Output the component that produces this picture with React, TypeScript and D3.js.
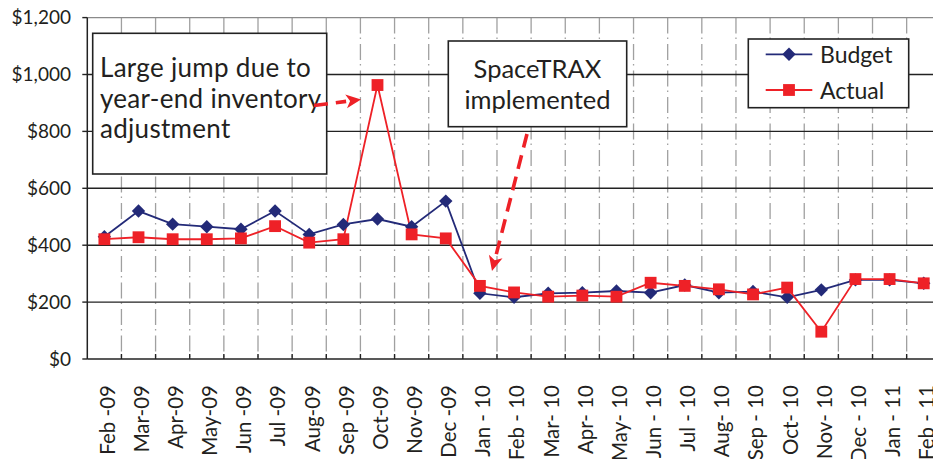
import React, { useEffect, useRef } from 'react';
import { select, scaleBand, scaleLinear, line, range, symbol, symbolSquare } from 'd3';

const months = [
  'Feb -09', 'Mar-09', 'Apr-09', 'May-09', 'Jun -09', 'Jul -09', 'Aug-09', 'Sep -09',
  'Oct-09', 'Nov-09', 'Dec -09', 'Jan - 10', 'Feb - 10', 'Mar- 10', 'Apr- 10', 'May- 10',
  'Jun - 10', 'Jul - 10', 'Aug- 10', 'Sep - 10', 'Oct- 10', 'Nov- 10', 'Dec - 10', 'Jan - 11', 'Feb - 11',
];
const budget = [430, 520, 474, 465, 456, 520, 438, 473, 492, 465, 555, 231, 217, 231, 233, 239, 233, 260, 233, 237, 217, 243, 278, 278, 266];
const actual = [421, 428, 421, 421, 424, 467, 409, 421, 963, 438, 424, 257, 234, 219, 223, 219, 268, 257, 245, 227, 251, 96, 281, 281, 266];
const yTicks = [0, 200, 400, 600, 800, 1000, 1200];
const yTickLabels = ['$0', '$200', '$400', '$600', '$800', '$1,000', '$1,200'];

const FONT = 'Lato, "Open Sans", sans-serif';
const NAVY = '#232a78';
const RED = '#ee2127';

function BudgetChart() {
  const svgRef = useRef<SVGSVGElement>(null);

  useEffect(() => {
    const svg = select(svgRef.current);
    const left = 87.3;
    const right = 940.8;
    const top = 17.6;
    const bottom = 359;

    const x = scaleBand<string>().domain(months).range([left, right]).padding(0);
    const y = scaleLinear().domain([0, 1200]).range([bottom, top]);
    const cx = (i: number) => (x(months[i]) as number) + x.bandwidth() / 2;

    const g = svg.append('g');

    // vertical dash-dot gridlines at category boundaries
    g.selectAll('line.vgrid')
      .data(range(1, months.length))
      .enter()
      .append('line')
      .attr('x1', (i) => x(months[i]) as number)
      .attr('x2', (i) => x(months[i]) as number)
      .attr('y1', top)
      .attr('y2', bottom)
      .attr('stroke', '#a0a0a0')
      .attr('stroke-width', 1.3)
      .attr('stroke-dasharray', '16,4,1.5,5');

    // horizontal gridlines
    g.selectAll('line.hgrid')
      .data(yTicks.slice(1))
      .enter()
      .append('line')
      .attr('x1', left)
      .attr('x2', right)
      .attr('y1', (d) => y(d))
      .attr('y2', (d) => y(d))
      .attr('stroke', (d) => (d === 1200 ? '#8a8a8a' : '#222'))
      .attr('stroke-width', 1.4);

    // axes
    g.append('line').attr('x1', left).attr('x2', left).attr('y1', top).attr('y2', bottom)
      .attr('stroke', '#222').attr('stroke-width', 1.5);
    g.append('line').attr('x1', left).attr('x2', right).attr('y1', bottom).attr('y2', bottom)
      .attr('stroke', '#222').attr('stroke-width', 1.5);

    g.selectAll('line.ytick')
      .data(yTicks)
      .enter()
      .append('line')
      .attr('x1', left - 5)
      .attr('x2', left)
      .attr('y1', (d) => y(d))
      .attr('y2', (d) => y(d))
      .attr('stroke', '#222')
      .attr('stroke-width', 1.4);

    g.selectAll('line.xtick')
      .data(range(1, months.length))
      .enter()
      .append('line')
      .attr('x1', (i) => x(months[i]) as number)
      .attr('x2', (i) => x(months[i]) as number)
      .attr('y1', bottom - 5)
      .attr('y2', bottom)
      .attr('stroke', '#222')
      .attr('stroke-width', 1.4);

    // y labels
    g.selectAll('text.ylab')
      .data(yTicks)
      .enter()
      .append('text')
      .attr('x', 71)
      .attr('y', (d) => y(d))
      .attr('dy', '0.36em')
      .attr('text-anchor', 'end')
      .attr('font-family', FONT)
      .attr('font-size', 19)
      .attr('fill', '#231f20')
      .text((d, i) => yTickLabels[i]);

    // x labels, rotated
    g.selectAll('text.xlab')
      .data(months)
      .enter()
      .append('text')
      .attr('transform', (d, i) => `translate(${cx(i) + 3},385) rotate(-90)`)
      .attr('dy', '0.36em')
      .attr('text-anchor', 'end')
      .attr('font-family', FONT)
      .attr('font-size', 20.5)
      .attr('fill', '#231f20')
      .text((d) => d);

    // series
    const lineGen = line<number>().x((d, i) => cx(i)).y((d) => y(d));

    g.append('path').datum(budget).attr('d', lineGen)
      .attr('fill', 'none').attr('stroke', NAVY).attr('stroke-width', 1.8);
    g.append('path').datum(actual).attr('d', lineGen)
      .attr('fill', 'none').attr('stroke', RED).attr('stroke-width', 1.8);

    // diamond: square rotated 45deg, ~13px across
    const diamond = 'M0,-6.7L6.7,0L0,6.7L-6.7,0Z';
    const square = symbol().type(symbolSquare).size(140)();

    g.selectAll('path.bm')
      .data(budget)
      .enter()
      .append('path')
      .attr('d', diamond)
      .attr('transform', (d, i) => `translate(${cx(i)},${y(d)})`)
      .attr('fill', NAVY);

    g.selectAll('path.am')
      .data(actual)
      .enter()
      .append('path')
      .attr('d', square)
      .attr('transform', (d, i) => `translate(${cx(i)},${y(d)})`)
      .attr('fill', RED);

    // annotation boxes
    const box1 = g.append('g');
    box1.append('rect').attr('x', 92.7).attr('y', 33.3).attr('width', 234).attr('height', 140.7)
      .attr('fill', '#fff').attr('stroke', '#222').attr('stroke-width', 1.6);
    ['Large jump due to', 'year-end inventory', 'adjustment'].forEach((t, i) => {
      box1.append('text').attr('x', 100).attr('y', 77 + i * 30.5)
        .attr('font-family', FONT).attr('font-size', 26).attr('letter-spacing', 0.3)
        .attr('fill', '#231f20').text(t);
    });

    const box2 = g.append('g');
    box2.append('rect').attr('x', 448.3).attr('y', 41).attr('width', 178.4).attr('height', 85.7)
      .attr('fill', '#fff').attr('stroke', '#222').attr('stroke-width', 1.6);
    ['SpaceTRAX', 'implemented'].forEach((t, i) => {
      box2.append('text').attr('x', 537.5).attr('y', 78 + i * 30.5).attr('text-anchor', 'middle')
        .attr('font-family', FONT).attr('font-size', 25.5).attr('fill', '#231f20').text(t);
    });

    // dashed arrows
    const arrow = (x1: number, y1: number, x2: number, y2: number) => {
      const ang = Math.atan2(y2 - y1, x2 - x1);
      const headLen = 15;
      const headW = 7;
      const bx = x2 - headLen * Math.cos(ang);
      const by = y2 - headLen * Math.sin(ang);
      g.append('line').attr('x1', x1).attr('y1', y1).attr('x2', bx).attr('y2', by)
        .attr('stroke', RED).attr('stroke-width', 3.6).attr('stroke-dasharray', '14,8');
      const px = -Math.sin(ang) * headW;
      const py = Math.cos(ang) * headW;
      g.append('path')
        .attr('d', `M${x2},${y2}L${bx + px},${by + py}L${bx + 4 * Math.cos(ang)},${by + 4 * Math.sin(ang)}L${bx - px},${by - py}Z`)
        .attr('fill', RED);
    };
    arrow(314, 105.5, 361, 99.5);
    arrow(527, 134, 492, 271);

    // legend
    const leg = g.append('g');
    leg.append('rect').attr('x', 748.3).attr('y', 39).attr('width', 160.4).attr('height', 68.7)
      .attr('fill', '#fff').attr('stroke', '#222').attr('stroke-width', 1.6);
    const legItems = [
      { name: 'Budget', color: NAVY, shape: diamond, y: 54.3 },
      { name: 'Actual', color: RED, shape: square, y: 90 },
    ];
    legItems.forEach((it) => {
      leg.append('line').attr('x1', 765.7).attr('x2', 812.3).attr('y1', it.y).attr('y2', it.y)
        .attr('stroke', it.color).attr('stroke-width', 1.8);
      leg.append('path').attr('d', it.shape).attr('transform', `translate(789,${it.y})`).attr('fill', it.color);
      leg.append('text').attr('x', 820).attr('y', it.y + 9).attr('font-family', FONT).attr('font-size', 23)
        .attr('fill', '#231f20').text(it.name);
    });

    return () => {
      svg.selectAll('*').remove();
    };
  }, []);

  return <svg ref={svgRef} width={933} height={459} style={{ position: 'absolute', left: 0, top: 0, background: '#fff' }}></svg>;
}

export default function App() {
  return <BudgetChart />;
}
